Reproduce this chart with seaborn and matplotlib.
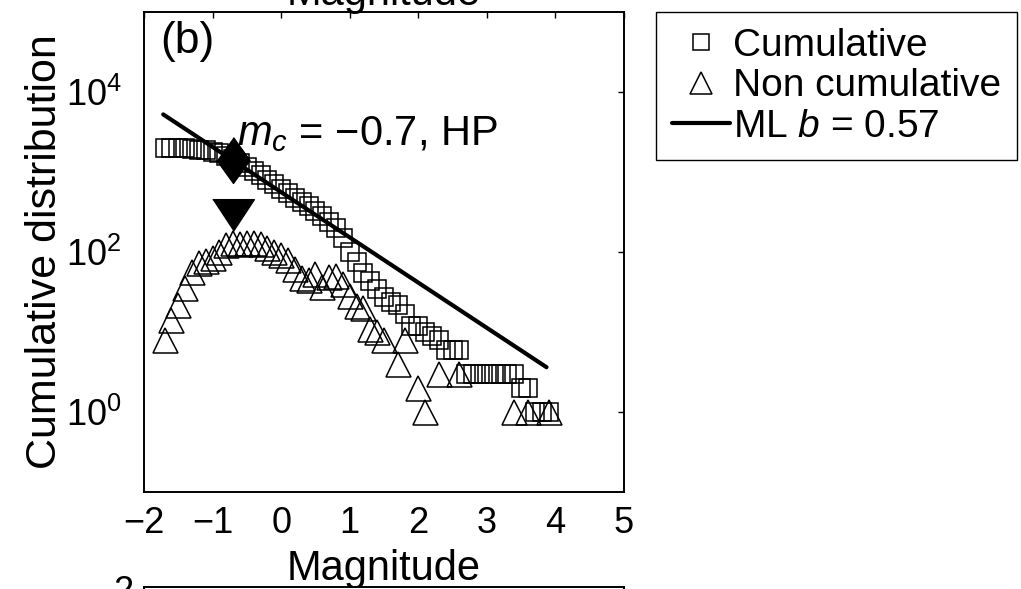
import numpy as np
import seaborn as sns
import matplotlib.pyplot as plt
from matplotlib.ticker import NullLocator, FixedLocator

# ---------------- data ----------------
cum_mag = [-1.7, -1.6, -1.5, -1.4, -1.3, -1.2, -1.1, -1.0, -0.9, -0.8,
           -0.7, -0.6, -0.5, -0.4, -0.3, -0.2, -0.1, 0.0, 0.1, 0.2,
           0.3, 0.4, 0.5, 0.6, 0.7, 0.8, 0.9, 1.0, 1.1, 1.2,
           1.3, 1.4, 1.5, 1.6, 1.7, 1.8, 1.9, 2.0, 2.1, 2.2,
           2.3, 2.4, 2.5, 2.6, 2.7, 2.8, 2.9, 3.0, 3.1, 3.2,
           3.3, 3.4, 3.5, 3.6, 3.7, 3.8, 3.9]
cum_vals = [2000, 1995, 1985, 1970, 1945, 1910, 1860, 1800, 1720, 1600,
            1450, 1300, 1170, 1030, 910, 800, 700, 620, 550, 480,
            425, 375, 325, 280, 240, 200, 150, 100, 75, 55,
            44, 34, 27, 24, 22, 17, 12, 12, 10, 9,
            8, 6, 6, 6, 3, 3, 3, 3, 3, 3,
            3, 3, 2, 2, 1, 1, 1]

nc_mag = [-1.7, -1.6, -1.5, -1.4, -1.3, -1.2, -1.1, -1.0, -0.9, -0.8,
          -0.7, -0.6, -0.5, -0.4, -0.3, -0.2, -0.1, 0.0, 0.1, 0.2,
          0.3, 0.4, 0.5, 0.6, 0.7, 0.8, 0.9, 1.0, 1.1, 1.2,
          1.3, 1.4, 1.5, 1.7, 1.8, 2.0, 2.1, 2.3, 2.6, 3.4,
          3.6, 3.9]
nc_vals = [8, 14, 22, 35, 57, 72, 78, 85, 100, 122,
           130, 127, 130, 131, 126, 112, 100, 92, 79, 62,
           48, 45, 53, 36, 49, 50, 40, 28, 21, 20,
           11, 10, 8, 4, 8, 2, 1, 3, 3, 1,
           1, 1]

# ML fit line (b = 0.57), end points
fit_mag = [-1.72, 3.87]
fit_vals = [5250, 3.63]

mc = -0.7
mc_cum = 1420      # diamond on cumulative curve
mc_mark = 290      # filled down triangle above the peak

# ---------------- style ----------------
sns.set_theme(style="white")
plt.rcParams["font.family"] = ["Liberation Sans", "DejaVu Sans"]
plt.rcParams["mathtext.fontset"] = "custom"
plt.rcParams["mathtext.rm"] = "Liberation Sans"
plt.rcParams["mathtext.it"] = "Liberation Sans:italic"
plt.rcParams["mathtext.sf"] = "Liberation Sans"
plt.rcParams["axes.edgecolor"] = "black"
plt.rcParams["xtick.color"] = "black"
plt.rcParams["ytick.color"] = "black"
plt.rcParams["text.color"] = "black"
plt.rcParams["axes.labelcolor"] = "black"

fig = plt.figure(figsize=(10.21, 5.89), dpi=100)
ax = fig.add_axes([144 / 1021, 97 / 589, 480 / 1021, 480 / 589])

sns.lineplot(x=cum_mag, y=cum_vals, ax=ax, estimator=None, linestyle="none",
             marker="s", ms=13, mfc="none", mec="black", mew=1.1,
             color="black", label="Cumulative", zorder=2)
sns.lineplot(x=nc_mag, y=nc_vals, ax=ax, estimator=None, linestyle="none",
             marker="^", ms=18, mfc="none", mec="black", mew=1.1,
             color="black", label="Non cumulative", zorder=2)
sns.lineplot(x=fit_mag, y=fit_vals, ax=ax, estimator=None, color="black",
             linewidth=3, label=r"ML $b$ = 0.57", zorder=3)

diamond = [(0, 1), (0.72, 0), (0, -1), (-0.72, 0)]
down_tri = [(-1, 0.76), (1, 0.76), (0, -0.76)]
ax.plot([mc], [mc_cum], linestyle="none", marker=diamond, ms=33,
        color="black", zorder=4)
ax.plot([mc], [mc_mark], linestyle="none", marker=down_tri, ms=30,
        color="black", zorder=4)

ax.text(-0.645, 2180, r"$m_c$ = −0.7, HP", fontsize=30, va="baseline", ha="left")
ax.text(0.033, 0.915, "(b)", fontsize=32, transform=ax.transAxes,
        va="baseline", ha="left")

ax.set_yscale("log")
ax.set_xlim(-2, 5)
ax.set_ylim(0.1, 1e5)
ax.xaxis.set_major_locator(FixedLocator([-2, -1, 0, 1, 2, 3, 4, 5]))
ax.yaxis.set_major_locator(FixedLocator([1, 100, 10000]))
ax.yaxis.set_minor_locator(NullLocator())
ax.tick_params(direction="in", length=4, width=1, top=True, right=True,
               labelsize=26)
ax.tick_params(axis="x", pad=10)
ax.tick_params(axis="y", pad=16)
for sp in ax.spines.values():
    sp.set_linewidth(1.4)
    sp.set_color("black")

ax.set_xlabel("Magnitude", fontsize=30, labelpad=6)
ax.set_ylabel("Cumulative distribution", fontsize=31)
ax.yaxis.set_label_coords(-0.165, 0.5)

leg = ax.legend(loc="upper left", bbox_to_anchor=(656 / 1021, 1 - 12 / 589),
                bbox_transform=fig.transFigure, fontsize=28, frameon=True,
                fancybox=False, edgecolor="black", framealpha=1,
                borderaxespad=0, handlelength=1.5, handletextpad=0.08,
                labelspacing=0.12, borderpad=0.4, markerscale=0.85)
leg.get_frame().set_linewidth(1.0)

# pieces of the neighbouring panels that are cut by the figure edge
fig.text(384 / 1021, 1 - 5 / 589, "Magnitude", fontsize=30,
         ha="center", va="baseline")
ax2 = fig.add_axes([144 / 1021, 2 / 589 - 0.3, 480 / 1021, 0.3])
ax2.set_xticks([])
ax2.set_yticks([])
for sp in ax2.spines.values():
    sp.set_linewidth(1.4)
    sp.set_color("black")
fig.text(133 / 1021, -13 / 589, "2", fontsize=26, ha="right", va="baseline")

fig.savefig("out.png", dpi=100)
